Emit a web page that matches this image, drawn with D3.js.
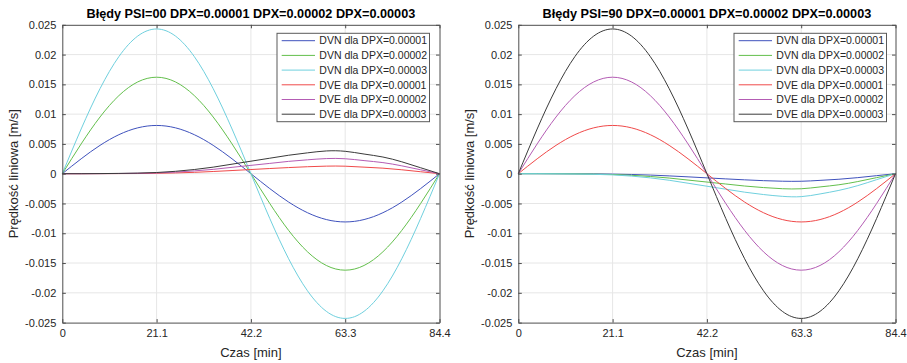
<!DOCTYPE html>
<html>
<head>
<meta charset="utf-8">
<script src="https://cdn.jsdelivr.net/npm/d3@7"></script>
<style>
  html, body { margin: 0; padding: 0; background: #fff; }
  svg { display: block; font-family: "Liberation Sans", Arial, sans-serif; }
</style>
</head>
<body>
<svg id="chart" width="907" height="363"></svg>
<script>
// ---------------- data ----------------
const time = [0, 4.22, 8.44, 12.66, 16.88, 21.1, 25.32, 29.54, 33.76, 37.98, 42.2,
              46.42, 50.64, 54.86, 59.08, 63.3, 67.52, 71.74, 75.96, 80.18, 84.4];

const xTicks = [0, 21.1, 42.2, 63.3, 84.4];
const xTickLabels = ["0", "21.1", "42.2", "63.3", "84.4"];
const yTicks = [-0.025, -0.02, -0.015, -0.01, -0.005, 0, 0.005, 0.01, 0.015, 0.02, 0.025];
const yTickLabels = ["-0.025", "-0.02", "-0.015", "-0.01", "-0.005", "0", "0.005", "0.01", "0.015", "0.02", "0.025"];

const titles = [
  "Błędy PSI=00 DPX=0.00001 DPX=0.00002 DPX=0.00003",
  "Błędy PSI=90 DPX=0.00001 DPX=0.00002 DPX=0.00003"
];
const xLabel = "Czas [min]";
const yLabel = "Prędkość liniowa [m/s]";

const seriesNames = [
  "DVN dla DPX=0.00001", "DVN dla DPX=0.00002", "DVN dla DPX=0.00003",
  "DVE dla DPX=0.00001", "DVE dla DPX=0.00002", "DVE dla DPX=0.00003"
];
const seriesColors = ["#3f52bd", "#63bf4c", "#6fd0de", "#f04a4a", "#b45cb4", "#3a3a3a"];

// large sinusoidal components
const sineA1 = [0, 0.0025, 0.00476, 0.00655, 0.0077, 0.0081, 0.0077, 0.00655, 0.00476, 0.0025, 0,
                -0.0025, -0.00476, -0.00655, -0.0077, -0.0081, -0.0077, -0.00655, -0.00476, -0.0025, 0];
const sineA2 = [0, 0.005, 0.00952, 0.01311, 0.01541, 0.0162, 0.01541, 0.01311, 0.00952, 0.005, 0,
                -0.005, -0.00952, -0.01311, -0.01541, -0.0162, -0.01541, -0.01311, -0.00952, -0.005, 0];
const sineA3 = [0, 0.00751, 0.01428, 0.01966, 0.02311, 0.0243, 0.02311, 0.01966, 0.01428, 0.00751, 0,
                -0.00751, -0.01428, -0.01966, -0.02311, -0.0243, -0.02311, -0.01966, -0.01428, -0.00751, 0];

// small hump components (PSI=00 DVE, positive)
const humpL1 = [0, 0, 0.00001, 0.00002, 0.00003, 0.00007, 0.00013, 0.00023, 0.00037, 0.00053, 0.0007,
                0.00087, 0.00103, 0.00117, 0.00127, 0.00126, 0.0011, 0.00093, 0.00066, 0.00033, 0];
const humpL2 = [0, 0, 0.00001, 0.00003, 0.00007, 0.00013, 0.00027, 0.00047, 0.00073, 0.00107, 0.0014,
                0.00173, 0.00207, 0.00233, 0.00254, 0.00251, 0.0022, 0.00186, 0.00132, 0.00066, 0];
const humpL3 = [0, 0, 0.00002, 0.00005, 0.0001, 0.0002, 0.0004, 0.0007, 0.0011, 0.0016, 0.0021,
                0.0026, 0.0031, 0.0035, 0.00382, 0.00376, 0.0033, 0.0028, 0.002, 0.001, 0];

// small hump components (PSI=90 DVN, negative)
const humpR1 = [0, 0, -0.00001, -0.00002, -0.00003, -0.00007, -0.00013, -0.00023, -0.00037, -0.00053, -0.0007,
                -0.00087, -0.00103, -0.00117, -0.00126, -0.00127, -0.00112, -0.00093, -0.00066, -0.00033, 0];
const humpR2 = [0, 0, -0.00001, -0.00003, -0.00007, -0.00013, -0.00027, -0.00047, -0.00073, -0.00107, -0.0014,
                -0.00173, -0.00207, -0.00233, -0.00252, -0.00253, -0.00222, -0.00186, -0.00132, -0.00066, 0];
const humpR3 = [0, 0, -0.00002, -0.00005, -0.0001, -0.0002, -0.0004, -0.0007, -0.0011, -0.0016, -0.0021,
                -0.0026, -0.0031, -0.0035, -0.0038, -0.00385, -0.0034, -0.0028, -0.002, -0.001, 0];

const panels = [
  { title: titles[0], series: [sineA1, sineA2, sineA3, humpL1, humpL2, humpL3], left: 62.3, legendLeft: 277 },
  { title: titles[1], series: [humpR1, humpR2, humpR3, sineA1, sineA2, sineA3], left: 518.3, legendLeft: 734 }
];

// ---------------- drawing ----------------
const svg = d3.select("#chart");
const plotW = 377.2, plotTop = 24.8, plotBottom = 322.6;
const axisColor = "#4d4d4d", textColor = "#262626", gridColor = "#e6e6e6";

panels.forEach(p => {
  const x = d3.scaleLinear().domain([0, 84.4]).range([p.left, p.left + plotW]);
  const y = d3.scaleLinear().domain([-0.025, 0.025]).range([plotBottom, plotTop]);
  const g = svg.append("g");

  // grid
  g.append("g").selectAll("line").data(xTicks.slice(1, -1)).join("line")
    .attr("x1", d => x(d)).attr("x2", d => x(d)).attr("y1", plotTop).attr("y2", plotBottom)
    .attr("stroke", gridColor).attr("stroke-width", 1);
  g.append("g").selectAll("line").data(yTicks.slice(1, -1)).join("line")
    .attr("x1", x(0)).attr("x2", x(84.4)).attr("y1", d => y(d)).attr("y2", d => y(d))
    .attr("stroke", gridColor).attr("stroke-width", 1);

  // series
  const line = d3.line().x((d, i) => x(time[i])).y(d => y(d)).curve(d3.curveNatural);
  const plotG = g.append("g");
  p.series.forEach((s, i) => {
    plotG.append("path").datum(s).attr("d", line)
      .attr("fill", "none").attr("stroke", seriesColors[i]).attr("stroke-width", 1);
  });

  // axes (ticks inward)
  const tickLen = 3.5;
  const axB = d3.axisBottom(x).tickValues(xTicks).tickFormat((d, i) => xTickLabels[i])
    .tickSizeInner(-tickLen).tickSizeOuter(0).tickPadding(7);
  const axL = d3.axisLeft(y).tickValues(yTicks).tickFormat((d, i) => yTickLabels[i])
    .tickSizeInner(-tickLen).tickSizeOuter(0).tickPadding(6);
  const axT = d3.axisTop(x).tickValues(xTicks).tickFormat("").tickSizeInner(-tickLen).tickSizeOuter(0);
  const axR = d3.axisRight(y).tickValues(yTicks).tickFormat("").tickSizeInner(-tickLen).tickSizeOuter(0);

  const styleAx = sel => {
    sel.selectAll("path.domain").attr("stroke", axisColor).attr("stroke-width", 1);
    sel.selectAll(".tick line").attr("stroke", axisColor).attr("stroke-width", 1);
    sel.selectAll("text").attr("fill", textColor).style("font-size", "11px")
      .style("font-family", "'Liberation Sans', Arial, sans-serif");
  };
  g.append("g").attr("transform", `translate(0,${plotBottom})`).call(axB).call(styleAx);
  g.append("g").attr("transform", `translate(${x(0)},0)`).call(axL).call(styleAx);
  g.append("g").attr("transform", `translate(0,${plotTop})`).call(axT).call(styleAx);
  g.append("g").attr("transform", `translate(${x(84.4)},0)`).call(axR).call(styleAx);

  // title
  g.append("text").attr("x", (x(0) + x(84.4)) / 2).attr("y", 18)
    .attr("text-anchor", "middle").attr("fill", "#000")
    .style("font-size", "12.7px").style("font-weight", "bold").text(p.title);

  // axis labels
  g.append("text").attr("x", (x(0) + x(84.4)) / 2).attr("y", 357)
    .attr("text-anchor", "middle").attr("fill", textColor)
    .style("font-size", "13px").text(xLabel);
  g.append("text").attr("transform", `translate(${x(0) - 44},${(plotTop + plotBottom) / 2}) rotate(-90)`)
    .attr("text-anchor", "middle").attr("fill", textColor)
    .style("font-size", "13px").text(yLabel);

  // legend
  const lg = g.append("g").attr("transform", `translate(${p.legendLeft},33.3)`);
  lg.append("rect").attr("x", 0).attr("y", 0).attr("width", 152.5).attr("height", 88.4)
    .attr("fill", "#fff").attr("stroke", "#5a5a5a").attr("stroke-width", 1);
  seriesNames.forEach((name, i) => {
    const cy = 7.4 + i * 14.7;
    lg.append("line").attr("x1", 4.7).attr("x2", 38).attr("y1", cy).attr("y2", cy)
      .attr("stroke", seriesColors[i]).attr("stroke-width", 1);
    lg.append("text").attr("x", 42.3).attr("y", cy + 3.8).attr("fill", textColor)
      .style("font-size", "10.5px").text(name);
  });
});
</script>
</body>
</html>
